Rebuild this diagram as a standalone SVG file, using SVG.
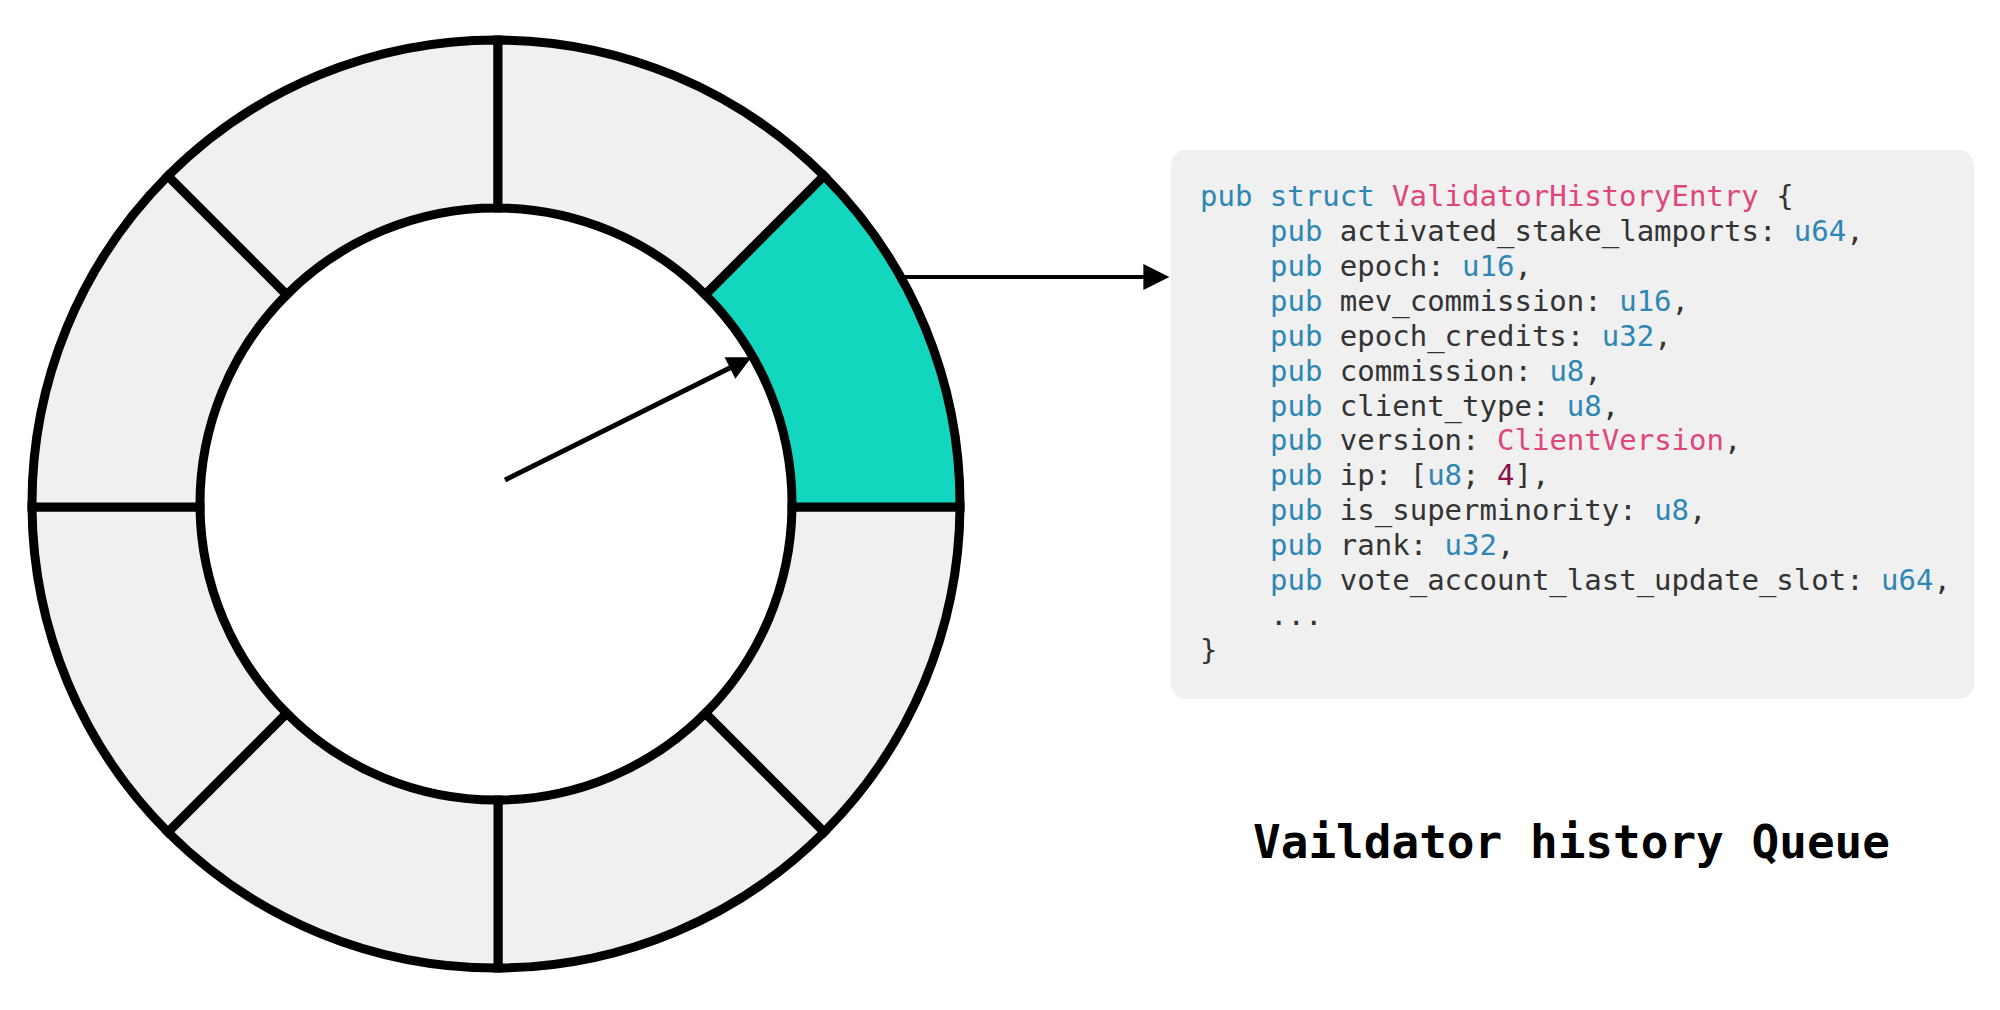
<svg xmlns="http://www.w3.org/2000/svg" width="2000" height="1010" viewBox="0 0 2000 1010">
<style>
.seg{fill:#f0f0f0;stroke:#000;stroke-width:9;stroke-linejoin:miter}
.seg.active{fill:#12d6be}
.code{font-family:"DejaVu Sans Mono","Liberation Mono",monospace;font-size:29px;fill:#333;white-space:pre}
.kw{fill:#2e86b5}
.ty{fill:#2e86b5}
.nm{fill:#e0467c}
.num{fill:#8a0d47}
.title{font-family:"DejaVu Sans Mono","Liberation Mono",monospace;font-size:46px;font-weight:bold;fill:#000;white-space:pre}
.conn{stroke:#000;fill:none}
</style>
<defs>
<marker id="ah1" viewBox="0 0 10 10" refX="6.9" refY="5" markerWidth="26" markerHeight="24" markerUnits="userSpaceOnUse" orient="auto">
<path d="M0,0 L10,5 L0,10 z" fill="#000"/>
</marker>
<marker id="ah2" viewBox="0 0 10 10" refX="6.4" refY="5" markerWidth="29" markerHeight="26" markerUnits="userSpaceOnUse" orient="auto">
<path d="M0,0 L10,5 L0,10 z" fill="#000"/>
</marker>
</defs>
<rect width="2000" height="1010" fill="#fff"/>
<g id="ring">
<g id="slot-0"><path class="seg" d="M960,507 A464,464 0 0 1 824.1,832.1 L705.3,713.3 A296,296 0 0 0 792,507 Z"/></g>
<g id="slot-1"><path class="seg" d="M824.1,832.1 A464,464 0 0 1 498,968 L498,800 A296,296 0 0 0 705.3,713.3 Z"/></g>
<g id="slot-2"><path class="seg" d="M498,968 A464,464 0 0 1 167.9,832.1 L286.7,713.3 A296,296 0 0 0 498,800 Z"/></g>
<g id="slot-3"><path class="seg" d="M167.9,832.1 A464,464 0 0 1 32,507 L200,507 A296,296 0 0 0 286.7,713.3 Z"/></g>
<g id="slot-4"><path class="seg" d="M32,507 A464,464 0 0 1 167.9,175.9 L286.7,294.7 A296,296 0 0 0 200,507 Z"/></g>
<g id="slot-5"><path class="seg" d="M167.9,175.9 A464,464 0 0 1 498,40 L498,208 A296,296 0 0 0 286.7,294.7 Z"/></g>
<g id="slot-6"><path class="seg" d="M498,40 A464,464 0 0 1 824.1,175.9 L705.3,294.7 A296,296 0 0 0 498,208 Z"/></g>
<g id="slot-7"><path class="seg active" d="M824.1,175.9 A464,464 0 0 1 960,507 L792,507 A296,296 0 0 0 705.3,294.7 Z"/></g>
</g>
<g id="code-box">
<rect x="1171" y="150" width="803" height="549" rx="15" fill="#f0f0f0"/>
<text class="code" x="1200" y="206"><tspan class="kw">pub</tspan> <tspan class="kw">struct</tspan> <tspan class="nm">ValidatorHistoryEntry</tspan> {</text>
<text class="code" x="1270" y="241"><tspan class="kw">pub</tspan> activated_stake_lamports: <tspan class="ty">u64</tspan>,</text>
<text class="code" x="1270" y="276"><tspan class="kw">pub</tspan> epoch: <tspan class="ty">u16</tspan>,</text>
<text class="code" x="1270" y="311"><tspan class="kw">pub</tspan> mev_commission: <tspan class="ty">u16</tspan>,</text>
<text class="code" x="1270" y="346"><tspan class="kw">pub</tspan> epoch_credits: <tspan class="ty">u32</tspan>,</text>
<text class="code" x="1270" y="381"><tspan class="kw">pub</tspan> commission: <tspan class="ty">u8</tspan>,</text>
<text class="code" x="1270" y="416"><tspan class="kw">pub</tspan> client_type: <tspan class="ty">u8</tspan>,</text>
<text class="code" x="1270" y="450"><tspan class="kw">pub</tspan> version: <tspan class="nm">ClientVersion</tspan>,</text>
<text class="code" x="1270" y="485"><tspan class="kw">pub</tspan> ip: [<tspan class="ty">u8</tspan>; <tspan class="num">4</tspan>],</text>
<text class="code" x="1270" y="520"><tspan class="kw">pub</tspan> is_superminority: <tspan class="ty">u8</tspan>,</text>
<text class="code" x="1270" y="555"><tspan class="kw">pub</tspan> rank: <tspan class="ty">u32</tspan>,</text>
<text class="code" x="1270" y="590"><tspan class="kw">pub</tspan> vote_account_last_update_slot: <tspan class="ty">u64</tspan>,</text>
<text class="code" x="1270" y="625">...</text>
<text class="code" x="1200" y="660">}</text>
</g>
<g id="title">
<text class="title" x="1253" y="858">Vaildator history Queue</text>
</g>
<g id="connectors">
<line class="conn" x1="505" y1="480" x2="744.8" y2="360.6" stroke-width="5" marker-end="url(#ah1)"/>
<line class="conn" x1="900" y1="277" x2="1160" y2="277" stroke-width="4" marker-end="url(#ah2)"/>
</g>
</svg>
